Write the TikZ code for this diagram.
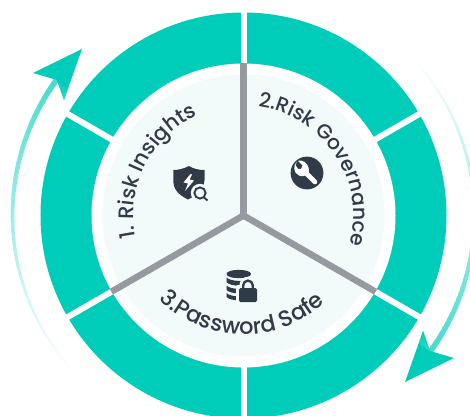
\documentclass[tikz,border=0pt]{standalone}
\usepackage{fontspec}
\setmainfont{Poppins}
\newfontfamily\lblfont{Poppins Medium}
\usetikzlibrary{decorations.text}
\definecolor{teal1}{HTML}{00CDB9}
\definecolor{pale}{HTML}{F2FBFA}
\definecolor{spoke}{HTML}{96999F}
\definecolor{ink}{HTML}{2F3B47}
\tikzset{
  x=1pt,y=1pt,
  gapline/.style={white,line width=6pt},
  curvetext/.style 2 args={decorate,decoration={text along path,text color=ink,text align=center,text={|\fontsize{#1}{#1}\lblfont|#2}}},
}
\begin{document}
\begin{tikzpicture}
\useasboundingbox (-243.5,-199.5) rectangle (226.5,215.5);
% ring
\begin{scope}
\clip (-243.5,-199.5) rectangle (226.5,215.5);
\fill[teal1] (0,0) circle[radius=203];
\fill[white] (0,0) circle[radius=152];
\fill[pale] (0,0) circle[radius=141];
\foreach \a in {30,90,150,210,270,330}
  \draw[gapline] (\a:151) -- (\a:206);
\end{scope}
% spokes
\foreach \a in {90,210,330}
  \draw[spoke,line width=6.5pt] (\a:152.5) -- (0,0);
\fill[spoke] (0,0) circle[radius=3.6];
% circular arrows
\foreach \r in {0,180}{
\begin{scope}[rotate=\r]
  \foreach \i in {0,...,59}{
    \pgfmathsetmacro{\sa}{225-\i*81/60}
    \pgfmathsetmacro{\ea}{\sa-81/60-0.25}
    \pgfmathsetmacro{\p}{min(72,pow(\i/59,1.15)*72)}
    \pgfmathsetmacro{\w}{1.5+\i/59*4}
    \draw[draw=teal1!\p!white,line width=\w pt] (\sa:231) arc[start angle=\sa,end angle=\ea,radius=231];
  }
  \fill[teal1] (-161.5,166.5) -- (-210.5,142.5) -- (-186.5,135.5) -- (-179.5,115.5) -- cycle;
  \shade[bottom color=teal1!80!white,top color=teal1,shading angle=-15] (-186.5,135.5) -- (-179.5,115.5) -- (-176,128) -- cycle;
\end{scope}}
% texts
\path[curvetext={21}{1. Risk Insights}] (213:110) arc[start angle=213,end angle=93,radius=110];
\path[curvetext={20.3}{2.Risk Governance}] (104:110) arc[start angle=104,end angle=-37,radius=110];
\path[curvetext={22.5}{3.Password Safe}] (197:119) arc[start angle=197,end angle=341,radius=119];
% shield icon
\begin{scope}[shift={(-243.5,215.5)},y=-1pt]
  \fill[ink] (189,166) .. controls (183,169) and (178,170) .. (173.3,170) -- (173.5,183)
     .. controls (174,191) and (181,196) .. (188,199.5)
     .. controls (195,196) and (204,191) .. (204.5,180) -- (204.5,170)
     .. controls (199,170) and (194,169) .. (189,166) -- cycle;
  \fill[white] (190.5,174) -- (183.5,182.5) -- (188,183.5) -- (185,191) -- (194,180.5) -- (189.5,179.5) -- (192,174.5) -- cycle;
  \fill[pale] (200,193) circle[radius=9.2];
  \draw[ink,line width=1.9pt] (200,193) circle[radius=5.6];
  \draw[ink,line width=1.9pt] (204,197.5) -- (207.5,200.5);
  % wrench icon
  \fill[ink] (307,173) circle[radius=16.4];
  \draw[white,line width=4.6pt,line cap=round] (304,171) -- (315,182);
  \fill[white] (297,161.5) .. controls (293,165) and (293,173) .. (299,175.5) .. controls (302,177) and (306,176) .. (309,173)
     .. controls (310,167) and (306,161) .. (301,160.5) .. controls (300,160.5) and (299,160.5) .. (298,160.8) -- (302.5,165.5) -- (301,169) -- (298,168.8) -- (295.5,165) -- cycle;
  % database + lock icon
  \fill[ink] (226.5,274) .. controls (226.5,268.5) and (251,268.5) .. (251,274) .. controls (251,279.5) and (226.5,279.5) .. (226.5,274) -- cycle;
  \fill[ink] (226.5,277.5) .. controls (231,282) and (247,282) .. (251,277.5) -- (251,282) .. controls (247,287) and (231,287) .. (226.5,282) -- cycle;
  \fill[ink] (226.5,285.5) .. controls (231,290) and (247,290) .. (251,285.5) -- (251,290) .. controls (247,294.5) and (231,294.5) .. (226.5,290) -- cycle;
  \fill[ink] (226.5,293) .. controls (231,297.5) and (247,297.5) .. (251,293) -- (251,296) .. controls (247,301.5) and (231,301.5) .. (226.5,297) -- cycle;
  \fill[pale,rounded corners=2pt] (236,285) rectangle (261,305);
  \fill[pale] (248,285.4) circle[radius=8.6];
  \fill[ink,rounded corners=1.5pt] (239,288) rectangle (257,302);
  \draw[ink,line width=2.3pt] (243.2,289) -- (243.2,285.4) arc[start angle=180,end angle=360,radius=4.8] -- (252.8,289);
\end{scope}
\end{tikzpicture}
\end{document}
